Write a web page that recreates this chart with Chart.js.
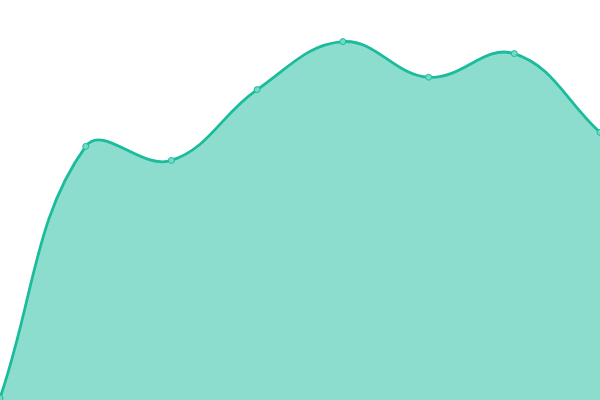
<!DOCTYPE html>
<html>
<head>
<meta charset="utf-8">
<script src="https://cdn.jsdelivr.net/npm/chart.js@4"></script>
<style>
  html, body { margin: 0; padding: 0; background: #fff; }
  #wrap { width: 600px; height: 400px; }
</style>
</head>
<body>
<div id="wrap"><canvas id="chart"></canvas></div>
<script>
// Series data (scale 0..100, no visible axes)
const labels = ['1', '2', '3', '4', '5', '6', '7', '8'];
const values = [0.5, 63.4, 59.9, 77.6, 89.6, 80.7, 86.6, 66.9];

const LINE = '#1abc9c';
const FILL = 'rgba(26, 188, 156, 0.5)';
const POINT = '#74dac6';

new Chart(document.getElementById('chart'), {
    type: 'line',
    data: {
        labels: labels,
        datasets: [{
            data: values,
            borderColor: LINE,
            backgroundColor: FILL,
            pointBackgroundColor: POINT,
            pointBorderColor: LINE,
            pointBorderWidth: 1,
            pointRadius: 3,
            borderWidth: 2.8,
            tension: 0.4,
            fill: 'origin'
        }]
    },
    options: {
        responsive: true,
        maintainAspectRatio: false,
        animation: false,
        layout: { padding: 0, autoPadding: false },
        plugins: {
            legend: { display: false },
            tooltip: { enabled: false }
        },
        scales: {
            x: { display: false, offset: false },
            y: { display: false, min: 0, max: 100 }
        }
    }
});
</script>
</body>
</html>
